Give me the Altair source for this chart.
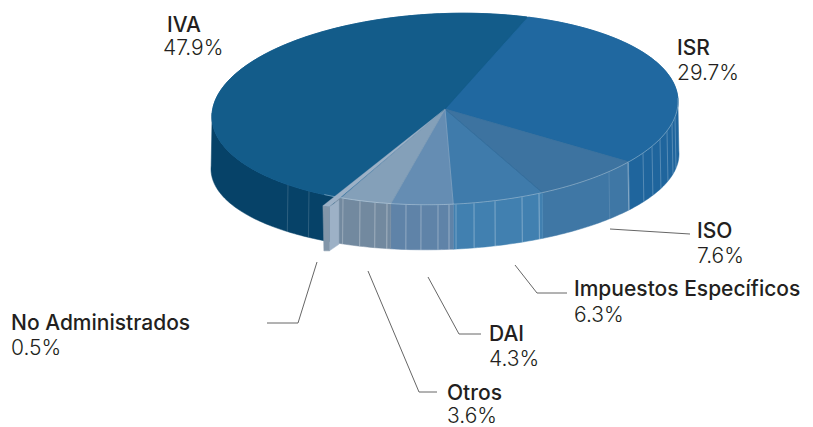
import math
import altair as alt

# ---- data ----
categories = ["ISR", "ISO", "Impuestos Específicos", "DAI", "Otros", "No Administrados", "IVA"]
shares = [29.7, 7.6, 6.3, 4.3, 3.6, 0.5, 47.9]
top_colors = ["#2068A0", "#3D73A0", "#3F7BAB", "#658DB3", "#84A0B9", "#9DB1C6", "#135C8A"]
side_colors = ["#1F659D", "#3F77A5", "#4180B0", "#5F83A8", "#72899F", "#7F93A7", "#064268"]

# ---- layout (page pixels) ----
START = 21.0
CX, CY, RX, RY = 445.0, 109.0, 233.0, 95.5
BCY, BRX, BRY = 161.5, 234.0, 88.0
SHEAR = -0.032
facet_x = [288, 309, 343, 360, 375, 406, 421, 438, 456, 474, 495, 522, 609, 643, 652, 660, 667, 672, 675]
facet_alpha = [0.2, 0.2, 0.35, 0.4, 0.4, 0.4, 0.4, 0.4, 0.35, 0.4, 0.4, 0.4, 0.14, 0.3, 0.3, 0.3, 0.3, 0.3, 0.3]
boundary_x = [387, 449, 539, 628]
label_x = [677, 697, 574, 489, 447, 11, 167]
name_y = [55, 238, 296, 341, 400, 330, 32]
value_x = [677, 697, 574, 489, 447, 11, 163]
value_y = [80, 263, 322, 366, 423, 355, 55]
leaders = [
    [(610, 229), (690, 234)],
    [(515, 265), (537, 293), (567, 293)],
    [(428, 277), (459, 334), (481, 334)],
    [(368, 271), (419, 392), (437, 392)],
    [(317, 262), (298, 323), (267, 323)],
]


def top(a, dx=0.0, dy=0.0):
    r = math.radians(a)
    x = CX + RX * math.sin(r)
    return [x + dx, CY - RY * math.cos(r) + SHEAR * (x - CX) + dy]


def bot(a, dx=0.0, dy=0.0):
    r = math.radians(a)
    x = CX + BRX * math.sin(r)
    return [x + dx, BCY - BRY * math.cos(r) + SHEAR * (x - CX) + dy]


def arc(fn, a0, a1, **kw):
    n = max(2, int(abs(a1 - a0)) + 2)
    return [fn(a0 + (a1 - a0) * i / (n - 1), **kw) for i in range(n)]


def poly(points, fill, stroke=None, width=0.5):
    pts = list(points) + [points[0]]
    return {"type": "Feature",
            "geometry": {"type": "Polygon", "coordinates": [pts]},
            "properties": {"fill": fill, "stroke": stroke or fill, "sw": width}}


def line(points, stroke, width):
    return {"type": "Feature",
            "geometry": {"type": "LineString", "coordinates": [list(p) for p in points]},
            "properties": {"fill": "rgba(0,0,0,0)", "stroke": stroke, "sw": width}}


# slice angles, clockwise from the top of the ellipse, from the shares
spans = []
a = START
for s in shares:
    spans.append((a, a + s * 3.6))
    a += s * 3.6

k = categories.index("No Administrados")
side_features, top_features = [], []
for i, (a0, a1) in enumerate(spans):
    if i == k:
        continue
    s0, s1 = max(a0, 88.0), min(a1, 272.0)
    if categories[i] == "Otros":
        s1 = spans[k][1]  # wall closes the gap left by the pulled-out slice
    if s1 > s0:
        side_features.append(poly(arc(top, s0, s1) + arc(bot, s1, s0), side_colors[i]))
    top_features.append(poly([[CX, CY]] + arc(top, a0, a1), top_colors[i], width=0.8))

# opaque disc under the wedges, so that no page white bleeds through the seams
disc = [poly(arc(top, 0, 360), "#1A6295")]

# rim and facet highlights on the wall
facets = []
for x, al in zip(facet_x, facet_alpha):
    u = math.degrees(math.asin((x - CX) / RX))
    facets.append(line([top(180 - u), bot(180 - u)], f"rgba(255,255,255,{al})", 0.8))
for x in boundary_x:
    u = math.degrees(math.asin((x - CX) / RX))
    facets.append(line([top(180 - u), bot(180 - u)], "rgba(255,255,255,0.4)", 0.9))
rim = [line(arc(top, 88, spans[6][0] + 3), "rgba(255,255,255,0.42)", 0.8)]
seams = [line([[CX, CY], top(spans[3][0])], "rgba(255,255,255,0.25)", 0.6),
         line([[CX, CY], top(spans[2][0])], "rgba(30,70,110,0.35)", 0.6)]

# the small pulled-out slice
a0, a1 = spans[k]
OFF = {"dx": -12.0, "dy": 9.0}
D = 44.0
pA, pB = top(a1, **OFF), top(a0, **OFF)  # A = left, B = right
inner = [pB[0] + 9.5, pB[1] - 6.5]
exploded = [
    poly([[pB[0], pB[1] + D], [inner[0], inner[1] + D], inner, pB], "#9DB1C6"),
    poly([pA, pB, [pB[0], pB[1] + D], [pA[0] + 1, pB[1] + D]], "#8296A9"),
    poly([[CX, CY], pA, pB], top_colors[k], width=0.3),
]

leader_lines = [line(p, "#666666", 1.0) for p in leaders]

features = side_features + facets + disc + top_features + rim + seams + exploded + leader_lines

shapes = alt.Chart(
    alt.InlineData(values={"type": "FeatureCollection", "features": features},
                   format=alt.DataFormat(type="json", property="features"))
).mark_geoshape().encode(
    fill=alt.Fill("properties.fill:N", scale=None),
    stroke=alt.Stroke("properties.stroke:N", scale=None),
    strokeWidth=alt.StrokeWidth("properties.sw:Q", scale=None),
).project(type="identity", scale=1, translate=[-8, -8])

table = [
    {"name": c, "value": f"{s}%", "nx": nx - 8, "ny": ny - 8, "vx": vx - 8, "vy": vy - 8}
    for c, s, nx, ny, vx, vy in zip(categories, shares, label_x, name_y, value_x, value_y)
]
base = alt.Chart(alt.Data(values=table))
names = base.mark_text(align="left", baseline="alphabetic", font="Inter", fontSize=21,
                       fontWeight=500, color="#231F20").encode(
    x=alt.X("nx:Q", scale=None), y=alt.Y("ny:Q", scale=None), text="name:N")
values = base.mark_text(align="left", baseline="alphabetic", font="Inter", fontSize=21,
                        fontWeight=300, color="#231F20").encode(
    x=alt.X("vx:Q", scale=None), y=alt.Y("vy:Q", scale=None), text="value:N")

chart = alt.layer(shapes, names, values).properties(
    width=797, height=419, padding=0, autosize=alt.AutoSizeParams(type="none")
).configure_view(stroke=None)

chart.save("out.html", embed_options={"renderer": "svg", "actions": False})
